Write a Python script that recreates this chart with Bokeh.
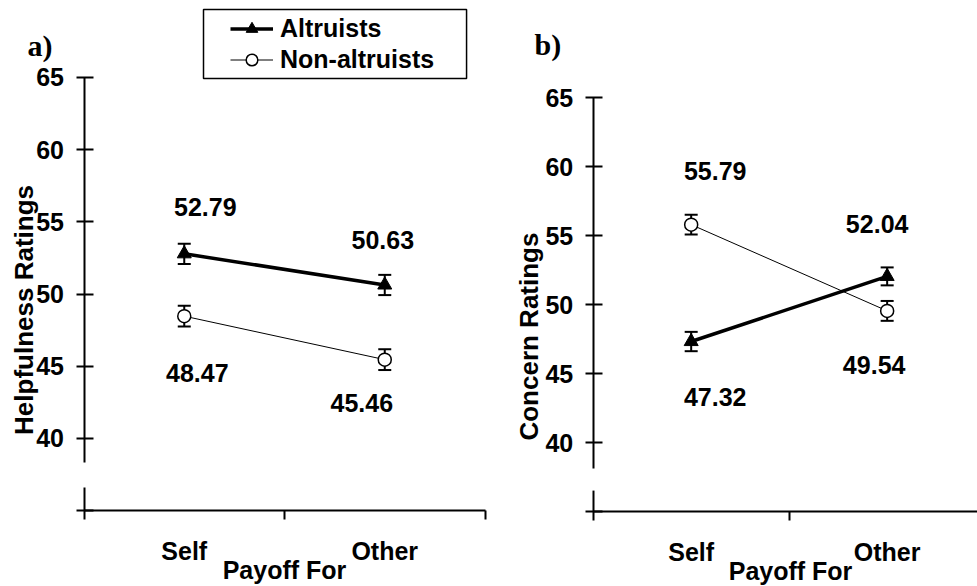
import numpy as np
from bokeh.plotting import figure
from bokeh.models import (ColumnDataSource, Range1d, FixedTicker, Whisker, TeeHead,
                          Label, Legend, LegendItem, BoxAnnotation, Arrow, LinearAxis)
from bokeh.layouts import row
from bokeh.embed import file_html
from bokeh.resources import INLINE
from bokeh.core.properties import value

# ---- data ----
categories = ["Self", "Other"]
help_altruists = [52.79, 50.63]
help_non_altruists = [48.47, 45.46]
help_altruists_se = [0.70, 0.70]
help_non_altruists_se = [0.72, 0.72]
concern_altruists = [47.32, 52.04]
concern_non_altruists = [55.79, 49.54]
concern_altruists_se = [0.70, 0.65]
concern_non_altruists_se = [0.72, 0.72]
y_ticks = [35, 40, 45, 50, 55, 60, 65]

FONT = "Liberation Sans"
FS = "25px"
H = 586


def make_panel(alt, non, alt_se, non_se, alt_off, non_off, ylabel, letter, width,
               xr, yr, x_end, gap, ylab_pos, letter_pos, xlab_pos, legend=False):
    p = figure(output_backend="svg", toolbar_location=None, width=width, height=H,
               min_border=0, x_range=Range1d(*xr), y_range=Range1d(*yr),
               x_axis_type=None, y_axis_type=None)
    p.outline_line_color = None
    p.xgrid.visible = False
    p.ygrid.visible = False
    p.background_fill_color = "white"
    p.border_fill_color = "white"

    xs = [i + 0.5 for i in range(len(categories))]
    xax = LinearAxis(ticker=FixedTicker(ticks=xs, minor_ticks=list(range(len(categories) + 1))),
                     major_label_overrides={x: c for x, c in zip(xs, categories)},
                     fixed_location=35, bounds=(0, x_end))
    xax.major_tick_line_color = None
    xax.major_tick_out = 0
    xax.major_tick_in = 0
    xax.minor_tick_out = 9
    xax.minor_tick_in = 0
    xax.minor_tick_line_width = 2
    xax.axis_line_width = 2
    xax.major_label_text_font = FONT
    xax.major_label_text_font_style = "bold"
    xax.major_label_text_font_size = FS
    xax.major_label_text_color = "black"
    xax.major_label_standoff = 17
    p.add_layout(xax, "below")

    yax = LinearAxis(ticker=FixedTicker(ticks=y_ticks, minor_ticks=[]),
                     major_label_overrides={35: ""}, bounds=(35, 65), fixed_location=0)
    yax.axis_line_width = 2
    yax.major_tick_line_width = 2
    yax.major_tick_in = 9
    yax.major_tick_out = 8
    yax.major_label_standoff = 12
    yax.major_label_text_font = FONT
    yax.major_label_text_font_style = "bold"
    yax.major_label_text_font_size = FS
    yax.major_label_text_color = "black"
    p.add_layout(yax, "left")

    # axis break
    p.add_layout(Arrow(end=None, x_start=0, x_end=0, y_start=gap[0], y_end=gap[1],
                       line_color="white", line_width=7))

    a_src = ColumnDataSource(dict(x=xs, y=alt, lo=[v - s for v, s in zip(alt, alt_se)],
                                  hi=[v + s for v, s in zip(alt, alt_se)],
                                  t=[f"{v:.2f}" for v in alt],
                                  dx=[o[0] for o in alt_off], dy=[o[1] for o in alt_off]))
    n_src = ColumnDataSource(dict(x=xs, y=non, lo=[v - s for v, s in zip(non, non_se)],
                                  hi=[v + s for v, s in zip(non, non_se)],
                                  t=[f"{v:.2f}" for v in non],
                                  dx=[o[0] for o in non_off], dy=[o[1] for o in non_off]))

    for src in (a_src, n_src):
        w = Whisker(source=src, base="x", lower="lo", upper="hi", dimension="height",
                    line_width=2, line_color="black", level="underlay",
                    upper_head=TeeHead(size=13, line_width=2, line_color="black"),
                    lower_head=TeeHead(size=13, line_width=2, line_color="black"))
        p.add_layout(w)

    la = p.line("x", "y", source=a_src, line_width=3.5, line_color="black")
    sa = p.scatter("x", "y", source=a_src, marker="triangle", size=14,
                   fill_color="black", line_color="black")
    ln = p.line("x", "y", source=n_src, line_width=1, line_color="black")
    sn = p.scatter("x", "y", source=n_src, marker="circle", size=13,
                   fill_color="white", line_color="black", line_width=1.5)

    for src in (a_src, n_src):
        p.text("x", "y", text="t", x_offset="dx", y_offset="dy", source=src,
               text_font=value(FONT), text_font_style="bold", text_font_size=FS,
               text_align="center", text_baseline="middle", text_color="black")

    p.add_layout(Label(x=ylab_pos[0], y=ylab_pos[1], text=ylabel, angle=90, angle_units="deg",
                       text_font=FONT, text_font_style="bold", text_font_size="26px",
                       text_align="center", text_baseline="middle", text_color="black"))
    p.add_layout(Label(x=letter_pos[0], y=letter_pos[1], text=letter,
                       text_font="Liberation Serif", text_font_style="bold",
                       text_font_size="30px", text_align="left", text_baseline="alphabetic",
                       text_color="black"))
    p.add_layout(Label(x=xlab_pos[0], y=xlab_pos[1], text="Payoff For",
                       text_font=FONT, text_font_style="bold", text_font_size=FS,
                       text_align="center", text_baseline="middle", text_color="black"))

    if legend:
        lg = Legend(items=[LegendItem(label="Altruists", renderers=[la, sa]),
                           LegendItem(label="Non-altruists", renderers=[ln, sn])],
                    location=(230, 512), padding=0, margin=0, spacing=2,
                    glyph_width=43, glyph_height=29, label_height=29, label_standoff=7,
                    label_text_font=FONT, label_text_font_style="bold",
                    label_text_font_size=FS, label_text_color="black",
                    border_line_color=None, background_fill_alpha=0)
        p.add_layout(lg)
        p.add_layout(BoxAnnotation(left=0.596, right=1.908, top=69.71, bottom=64.93,
                                   fill_alpha=0, line_color="black", line_alpha=1,
                                   line_width=1.5))
    return p


pa = make_panel(help_altruists, help_non_altruists, help_altruists_se, help_non_altruists_se,
                alt_off=[(21, -47), (-2, -45)], non_off=[(13, 57), (-23, 43)],
                ylabel="Helpfulness Ratings", letter="a)", width=490,
                xr=(-0.4165, 2.0274), yr=(29.75, 70.33), x_end=2.0,
                gap=(36.61, 38.34), ylab_pos=(-0.297, 48.90), letter_pos=(-0.282, 67.18),
                xlab_pos=(1.0, 30.86), legend=True)
pb = make_panel(concern_altruists, concern_non_altruists, concern_altruists_se, concern_non_altruists_se,
                alt_off=[(24, 55), (-10, -52)], non_off=[(24, -54), (-13, 54)],
                ylabel="Concern Ratings", letter="b)", width=487,
                xr=(-0.524, 1.961), yr=(29.57, 72.03), x_end=1.961,
                gap=(36.52, 38.12), ylab_pos=(-0.3276, 47.68), letter_pos=(-0.299, 68.84),
                xlab_pos=(1.007, 30.72))

layout = row(pa, pb)
open("out.html", "w").write(file_html(layout, INLINE))
